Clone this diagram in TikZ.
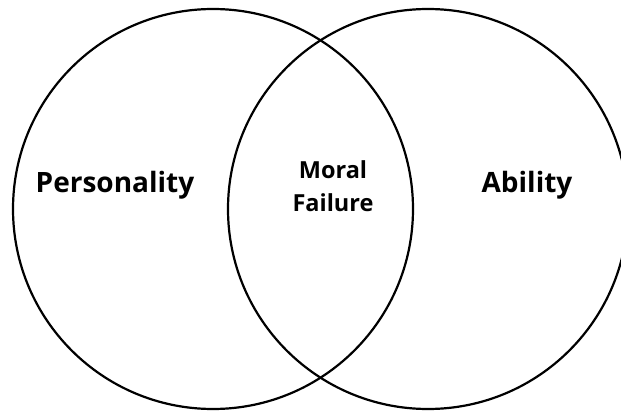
\documentclass[tikz,border=0pt]{standalone}
\usepackage{fontspec}
\setmainfont{Open Sans}
\begin{document}
\begin{tikzpicture}[x=1pt,y=-1pt,
  circ/.style={draw=black,line width=2.2pt},
  big/.style={font=\bfseries\fontsize{28}{32}\selectfont},
  mid/.style={font=\bfseries\fontsize{23.5}{33}\selectfont,align=center}]
\useasboundingbox (0,0) rectangle (621,412);
\draw[circ] (213,209) circle[radius=200];
\draw[circ] (428,209) circle[radius=200];
\node[big] (p) at (115,185) {Personality};
\node[big] (a) at (527,185) {Ability};
\node[mid] (m) at (333,186) {Moral\\Failure};
\end{tikzpicture}
\end{document}
